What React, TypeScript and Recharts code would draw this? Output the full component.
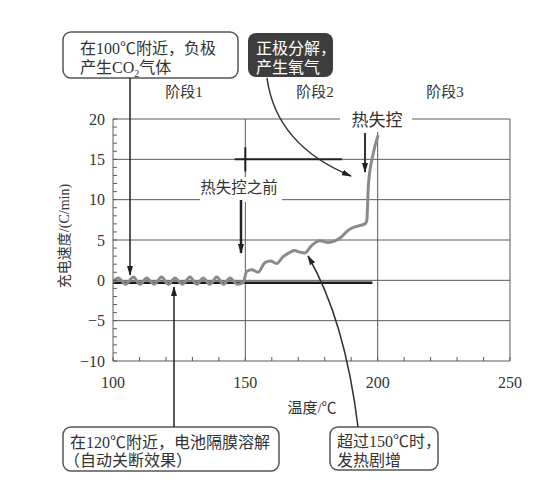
import { ComposedChart, Line, XAxis, YAxis, ReferenceLine } from 'recharts';

// gray curve: charge rate vs temperature
const curveTemp = [
  100, 102, 104.8, 107.7, 110.2, 112.7, 115.5, 118.4, 120.9, 123.4,
  126.2, 129.1, 131.6, 134.1, 136.6, 139.2, 141.7, 144.2, 147, 149.2,
  150.5, 152.5, 154.8, 157.4, 159.5, 161.8, 164.2, 167, 168.5, 170.5,
  172.5, 175, 178.2, 181.3, 183.9, 186.4, 188.8, 192.1, 195.2, 195.9,
  196.5, 198.3, 200.2,
];
const curveRate = [
  -0.2, 0.3, -0.5, 0.4, -0.5, 0.3, -0.5, 0.4, -0.5, 0.3,
  -0.5, 0.4, -0.5, 0.3, -0.5, 0.4, -0.5, 0.3, -0.5, -0.3,
  1.1, 1.3, 1.0, 2.2, 2.4, 2.1, 2.9, 3.5, 3.7, 3.5,
  3.4, 4.3, 4.9, 4.7, 4.9, 5.4, 6.2, 6.7, 7.0, 7.4,
  11.8, 15.7, 18.0,
];

// black reference baseline
const baseTemp = [100, 198];
const baseRate = [-0.3, -0.3];

const xTicks = [100, 110, 120, 130, 140, 150, 160, 170, 180, 190, 200, 210, 220, 230, 240, 250];
const xLabels = [100, 150, 200, 250];
const yTicks = [-10, -9, -8, -7, -6, -5, -4, -3, -2, -1, 0, 1, 2, 3, 4, 5, 6, 7, 8, 9, 10, 11, 12, 13, 14, 15, 16, 17, 18, 19, 20];
const yLabels = [-10, -5, 0, 5, 10, 15, 20];
const xGrid = [150, 200];
const yGrid = [-5, 0, 5, 10, 15];

const curve = curveTemp.map((t, i) => ({ t, rate: curveRate[i] }));
const baseline = baseTemp.map((t, i) => ({ t, rate: baseRate[i] }));

const font = '"Liberation Serif", "Noto Sans CJK SC", serif';
const ink = '#333';
const gridColor = '#5a5a5a';

const fmt = (v: number) => (v < 0 ? '\u2212' + Math.abs(v) : String(v));

function YTick({ x, y, payload }: any) {
  const v = payload.value;
  return (
    <g>
      <line x1={x} x2={x + 4} y1={y} y2={y} stroke={gridColor} />
      {yLabels.includes(v) && (
        <text x={x - 8} y={y} dy="0.35em" textAnchor="end" fontSize={16} fill={ink} fontFamily={font}>
          {fmt(v)}
        </text>
      )}
    </g>
  );
}

function XTick({ x, y, payload }: any) {
  const v = payload.value;
  return (
    <g>
      <line x1={x} x2={x} y1={y} y2={y - 4} stroke={gridColor} />
      {xLabels.includes(v) && (
        <text x={x} y={y + 21} dy="0.35em" textAnchor="middle" fontSize={16} fill={ink} fontFamily={font}>
          {v}
        </text>
      )}
    </g>
  );
}

function Annotations() {
  const box = { fill: '#fff', stroke: '#555', strokeWidth: 1.5 };
  const txt = { fontFamily: font, fill: ink, fontSize: 16 };
  return (
    <svg width={555} height={487} style={{ position: 'absolute', left: 0, top: 0, pointerEvents: 'none' }}>
      <defs>
        <marker id="ah" markerUnits="userSpaceOnUse" markerWidth={10} markerHeight={8} refX={9} refY={4} orient="auto">
          <path d="M0,1 L10,4 L0,7 z" fill="#222" />
        </marker>
      </defs>

      {/* stage labels */}
      <text x={184} y={97} textAnchor="middle" fontSize={15} fontFamily={font} fill={ink}>阶段1</text>
      <text x={315} y={97} textAnchor="middle" fontSize={15} fontFamily={font} fill={ink}>阶段2</text>
      <text x={445} y={97} textAnchor="middle" fontSize={15} fontFamily={font} fill={ink}>阶段3</text>

      {/* 热失控 over the top border */}
      <rect x={340} y={108} width={72} height={24} fill="#fff" />
      <text x={377} y={120} dy="0.35em" textAnchor="middle" fontSize={17} fontFamily={font} fill={ink}>热失控</text>
      <path d="M365,133 L365,172" stroke="#333" strokeWidth={2} markerEnd="url(#ah)" />

      {/* 热失控之前 */}
      <rect x={200} y={177} width={82} height={25} fill="#fff" />
      <text x={239} y={188} dy="0.35em" textAnchor="middle" fontSize={15.5} fontFamily={font} fill={ink}>热失控之前</text>
      <path d="M241,200 L241,253" stroke="#222" strokeWidth={2.5} markerEnd="url(#ah)" />

      {/* box 1 */}
      <rect x={63} y={32} width={175} height={46} rx={8} {...box} />
      <text x={80} y={48} dy="0.35em" {...txt}>在100℃附近，负极</text>
      <text x={80} y={67} dy="0.35em" {...txt}>
        产生CO<tspan dy={4} fontSize={10}>2</tspan><tspan dy={-4}>气体</tspan>
      </text>
      <path d="M130,78 L130,275" stroke="#222" strokeWidth={1.5} markerEnd="url(#ah)" />

      {/* box 2 (dark) */}
      <rect x={248} y={33} width={85} height={44} rx={8} fill="#3d3d3d" />
      <text x={256} y={48} dy="0.35em" {...txt} fill="#fff">正极分解，</text>
      <text x={256} y={67} dy="0.35em" {...txt} fill="#fff">产生氧气</text>
      <path d="M267,78 Q276,145 351,176" fill="none" stroke="#333" strokeWidth={1.5} markerEnd="url(#ah)" />

      {/* box 3 */}
      <rect x={63} y={427} width={216} height={44} rx={8} {...box} />
      <text x={70} y={442} dy="0.35em" {...txt}>在120℃附近，电池隔膜溶解</text>
      <text x={64} y={460} dy="0.35em" {...txt}>（自动关断效果）</text>
      <path d="M174,427 L174,287" stroke="#222" strokeWidth={1.5} markerEnd="url(#ah)" />

      {/* box 4 */}
      <rect x={330} y={427} width={108} height={43} rx={8} {...box} />
      <text x={337} y={441} dy="0.35em" {...txt}>超过150℃时，</text>
      <text x={337} y={460} dy="0.35em" {...txt}>发热剧增</text>
      <path d="M358,427 Q345,320 308,256" fill="none" stroke="#333" strokeWidth={1.5} markerEnd="url(#ah)" />

      {/* axis titles */}
      <text x={64} y={236} dy="0.35em" textAnchor="middle" fontSize={14} fontFamily={font} fill={ink} transform="rotate(-90 64 236)">
        充电速度/(C/min)
      </text>
      <text x={312} y={408} dy="0.35em" textAnchor="middle" fontSize={15} fontFamily={font} fill={ink}>温度/℃</text>
    </svg>
  );
}

export default function App() {
  return (
    <div style={{ position: 'absolute', left: 0, top: 0, width: 555, height: 487, background: '#fff' }}>
      <ComposedChart width={555} height={487} data={curve} margin={{ top: 119, right: 45, bottom: 96, left: 0 }}>
        <XAxis
          dataKey="t"
          type="number"
          domain={[100, 250]}
          ticks={xTicks}
          height={30}
          tickSize={0}
          tickMargin={0}
          tickLine={false}
          axisLine={{ stroke: gridColor }}
          tick={<XTick />}
          interval={0}
          allowDataOverflow
        />
        <YAxis
          type="number"
          domain={[-10, 20]}
          ticks={yTicks}
          width={113}
          tickSize={0}
          tickMargin={0}
          tickLine={false}
          axisLine={{ stroke: gridColor }}
          tick={<YTick />}
          interval={0}
          allowDataOverflow
        />
        {yGrid.map((v) => (
          <ReferenceLine key={'y' + v} y={v} stroke={gridColor} />
        ))}
        {xGrid.map((v) => (
          <ReferenceLine key={'x' + v} x={v} stroke={gridColor} />
        ))}
        <ReferenceLine y={20} stroke={gridColor} />
        <ReferenceLine x={250} stroke={gridColor} />
        {/* marker bracket at 15 */}
        <ReferenceLine segment={[{ x: 146, y: 15 }, { x: 186.5, y: 15 }]} stroke="#222" strokeWidth={2} />
        <ReferenceLine segment={[{ x: 150, y: 13.5 }, { x: 150, y: 16.5 }]} stroke="#222" strokeWidth={2} />
        <Line
          data={baseline}
          dataKey="rate"
          type="linear"
          stroke="#1a1a1a"
          strokeWidth={2.5}
          dot={false}
          isAnimationActive={false}
        />
        <Line
          dataKey="rate"
          type="monotone"
          stroke="#8a8a8a"
          strokeWidth={3}
          dot={false}
          isAnimationActive={false}
        />
      </ComposedChart>
      <Annotations />
    </div>
  );
}
